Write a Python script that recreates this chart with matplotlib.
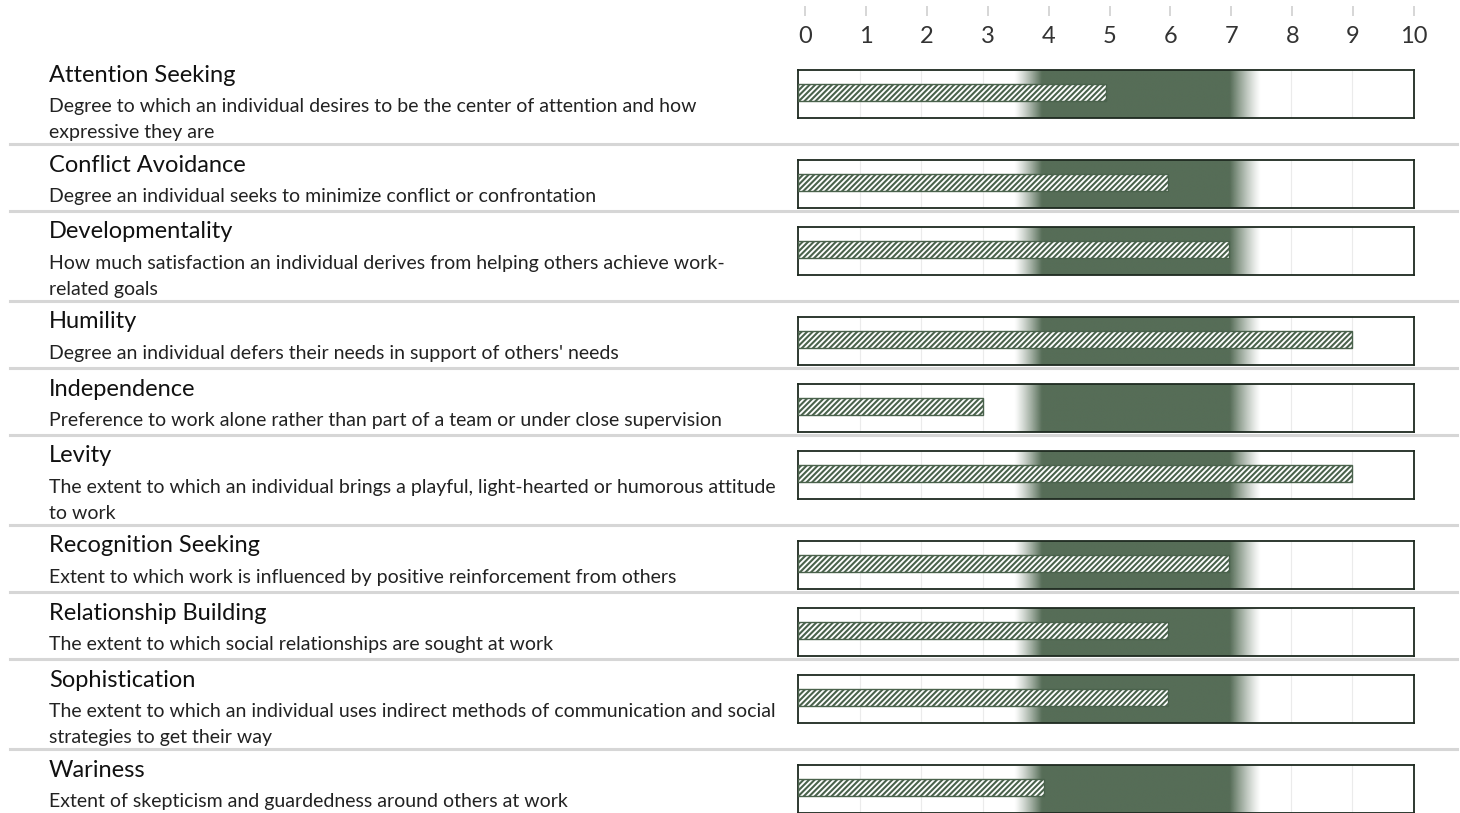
#!/usr/bin/env python3
"""Trait score bars with a shaded target band, one row per trait."""

import matplotlib as mpl

mpl.use("Agg")

import matplotlib.pyplot as plt
import numpy as np
from matplotlib.lines import Line2D

TRAITS = [
    "Attention Seeking",
    "Conflict Avoidance",
    "Developmentality",
    "Humility",
    "Independence",
    "Levity",
    "Recognition Seeking",
    "Relationship Building",
    "Sophistication",
    "Wariness",
]
DESCRIPTIONS = [
    "Degree to which an individual desires to be the center of attention and how\nexpressive they are",
    "Degree an individual seeks to minimize conflict or confrontation",
    "How much satisfaction an individual derives from helping others achieve work-\nrelated goals",
    "Degree an individual defers their needs in support of others' needs",
    "Preference to work alone rather than part of a team or under close supervision",
    "The extent to which an individual brings a playful, light-hearted or humorous attitude\nto work",
    "Extent to which work is influenced by positive reinforcement from others",
    "The extent to which social relationships are sought at work",
    "The extent to which an individual uses indirect methods of communication and social\nstrategies to get their way",
    "Extent of skepticism and guardedness around others at work",
]
SCORES = [5, 6, 7, 9, 3, 9, 7, 6, 6, 4]
TICKS = list(range(0, 11))

# target band: fades in from 3.5 to 4, solid to 7, fades out by 7.5
BAND_OUTER = (3.5, 7.5)
BAND_INNER = (3.95, 7.0)

GREEN = "#566d57"
HATCH_GREEN = "#4a624c"
SEP_GRAY = "#d6d6d6"

W, H = 1460, 813
plt.rcParams["font.family"] = ["Lato", "DejaVu Sans"]
plt.rcParams["hatch.linewidth"] = 1.5
plt.rcParams["hatch.color"] = HATCH_GREEN


def fx(px):
    return px / W


def fy(py):
    return 1 - py / H


def band_image():
    xs = np.linspace(BAND_OUTER[0], BAND_OUTER[1], 600)
    left = np.clip((xs - BAND_OUTER[0]) / (BAND_INNER[0] - BAND_OUTER[0]), 0, 1)
    right = np.clip((BAND_OUTER[1] - xs) / (BAND_OUTER[1] - BAND_INNER[1]), 0, 1)
    alpha = np.minimum(left, right) ** 1.2
    rgba = np.zeros((1, xs.size, 4))
    rgba[..., :3] = mpl.colors.to_rgb(GREEN)
    rgba[..., 3] = alpha
    return rgba


fig = plt.figure(figsize=(W / 100, H / 100), dpi=100)

# scale along the top
box_left, box_right = 798, 1414
tick_ax = fig.add_axes([fx(805), fy(16), fx(1414 - 805), fy(0) - fy(2)])
tick_ax.set_xlim(TICKS[0], TICKS[-1])
tick_ax.set_ylim(0, 1)
for side in ("top", "bottom", "left", "right"):
    tick_ax.spines[side].set_visible(False)
tick_ax.set_yticks([])
tick_ax.set_xticks(TICKS)
tick_ax.tick_params(axis="x", direction="in", length=7, width=1.2, color="#cfcfcf",
                    pad=7, labelsize=17, labelcolor="#333333")
tick_ax.patch.set_visible(False)

img = band_image()
row_top = 54
for i, (name, desc, score) in enumerate(zip(TRAITS, DESCRIPTIONS, SCORES)):
    n_lines = desc.count("\n") + 1
    row_h = 67 if n_lines == 1 else 90

    fig.text(fx(49), fy(row_top + 21), name, fontsize=17, va="center", ha="left", color="#111111")
    fig.text(fx(49), fy(row_top + 44), desc, fontsize=14, va="top", ha="left",
             color="#222222", linespacing=1.62)

    ax = fig.add_axes([fx(box_left), fy(row_top + 16 + 48), fx(box_right - box_left), 48 / H])
    ax.set_xlim(TICKS[0], TICKS[-1])
    ax.set_ylim(0, 1)
    ax.set_xticks([])
    ax.set_yticks([])
    for t in TICKS[1:-1]:
        ax.axvline(t, color="#ebebeb", lw=0.8, zorder=0.5)
    ax.imshow(img, extent=[BAND_OUTER[0], BAND_OUTER[1], 0, 1], aspect="auto",
              interpolation="bilinear", zorder=1)
    ax.barh(0.53, score, height=0.37, left=0, color="white", edgecolor=HATCH_GREEN,
            hatch="//////", linewidth=1.0, zorder=3)
    for side in ("top", "bottom", "left", "right"):
        ax.spines[side].set_color("#1e2a20")
        ax.spines[side].set_linewidth(1.3)

    if i < len(TRAITS) - 1:
        y = fy(row_top + row_h)
        fig.add_artist(Line2D([fx(10), fx(1457)], [y, y], color=SEP_GRAY, lw=2.2))
    row_top += row_h

fig.savefig("out.png", dpi=100)
